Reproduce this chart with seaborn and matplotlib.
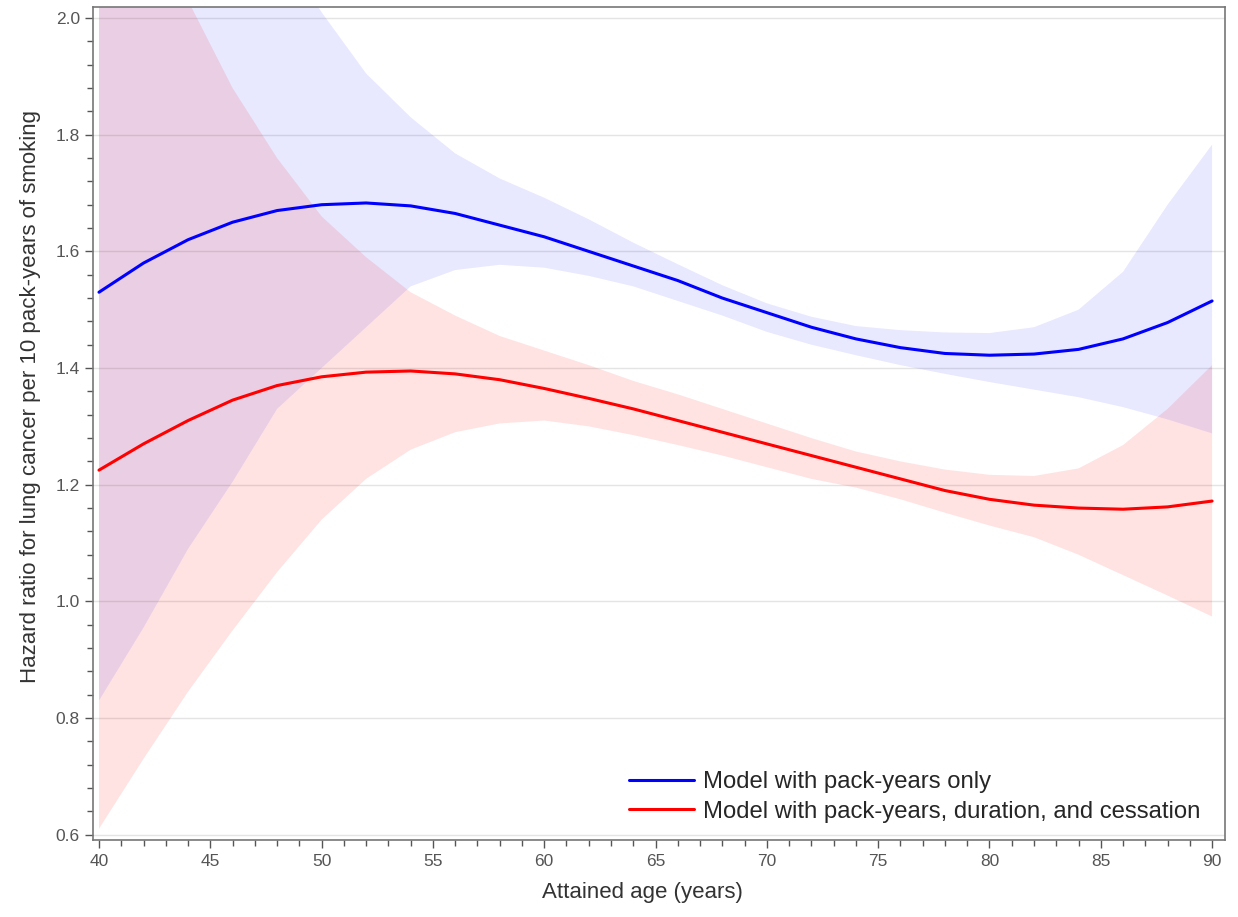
import numpy as np
import pandas as pd
import matplotlib
matplotlib.use("Agg")
import matplotlib.pyplot as plt
import seaborn as sns
from matplotlib.ticker import MultipleLocator, FormatStrFormatter

# values (every 2 years of attained age)
age = [40, 42, 44, 46, 48, 50, 52, 54, 56, 58, 60, 62, 64,
       66, 68, 70, 72, 74, 76, 78, 80, 82, 84, 86, 88, 90]

# model with pack-years only
hr_pack = [1.530, 1.580, 1.620, 1.650, 1.670, 1.680, 1.683, 1.678, 1.665, 1.645, 1.625, 1.600, 1.575,
           1.550, 1.520, 1.495, 1.470, 1.450, 1.435, 1.425, 1.422, 1.424, 1.432, 1.450, 1.478, 1.515]
lo_pack = [0.830, 0.955, 1.090, 1.205, 1.330, 1.400, 1.470, 1.540, 1.568, 1.577, 1.572, 1.558, 1.540,
           1.515, 1.490, 1.462, 1.440, 1.422, 1.405, 1.390, 1.376, 1.363, 1.350, 1.333, 1.312, 1.288]
hi_pack = [2.750, 2.580, 2.420, 2.270, 2.130, 2.010, 1.905, 1.830, 1.768, 1.725, 1.692, 1.655, 1.615,
           1.578, 1.542, 1.511, 1.488, 1.472, 1.465, 1.461, 1.460, 1.470, 1.500, 1.565, 1.680, 1.783]

# model with pack-years, duration and cessation
hr_full = [1.225, 1.270, 1.310, 1.345, 1.370, 1.385, 1.393, 1.395, 1.390, 1.380, 1.365, 1.348, 1.330,
           1.310, 1.290, 1.270, 1.250, 1.230, 1.210, 1.190, 1.175, 1.165, 1.160, 1.158, 1.162, 1.172]
lo_full = [0.610, 0.730, 0.845, 0.950, 1.050, 1.140, 1.210, 1.260, 1.290, 1.305, 1.310, 1.300, 1.285,
           1.268, 1.250, 1.230, 1.210, 1.195, 1.175, 1.152, 1.130, 1.110, 1.080, 1.045, 1.010, 0.974]
hi_full = [2.450, 2.230, 2.030, 1.880, 1.760, 1.660, 1.590, 1.530, 1.490, 1.455, 1.430, 1.405, 1.378,
           1.355, 1.330, 1.305, 1.280, 1.257, 1.240, 1.226, 1.217, 1.215, 1.228, 1.268, 1.330, 1.405]

labels = ["Model with pack-years only",
          "Model with pack-years, duration, and cessation"]
colors = ["#0000ff", "#ff0000"]

df = pd.concat([
    pd.DataFrame({"age": age, "hr": hr_pack, "model": labels[0]}),
    pd.DataFrame({"age": age, "hr": hr_full, "model": labels[1]}),
])

sns.set_theme(style="white")
plt.rcParams["font.family"] = ["Liberation Sans", "DejaVu Sans"]

fig = plt.figure(figsize=(12.38, 9.17), dpi=100)
ax = fig.add_axes([0.0751, 0.084, 0.9144, 0.9084])

ax.fill_between(age, lo_pack, hi_pack, color="#0000ff", alpha=0.09, linewidth=0)
ax.fill_between(age, lo_full, hi_full, color="#ff0000", alpha=0.11, linewidth=0)

sns.lineplot(data=df, x="age", y="hr", hue="model", palette=colors,
             linewidth=2.2, ax=ax, zorder=3)

ax.set_xlim(39.73, 90.58)
ax.set_ylim(0.591, 2.019)
ax.xaxis.set_major_locator(MultipleLocator(5))
ax.xaxis.set_minor_locator(MultipleLocator(1))
ax.yaxis.set_major_locator(MultipleLocator(0.2))
ax.yaxis.set_minor_locator(MultipleLocator(0.04))
ax.yaxis.set_major_formatter(FormatStrFormatter("%.1f"))

ax.grid(axis="y", which="major", color="#e4e4e4", linewidth=1.0)
ax.set_axisbelow(True)

ax.tick_params(axis="both", which="major", direction="out", length=6, width=1,
               color="#555555", labelsize=12.5, labelcolor="#555555", left=True, bottom=True)
ax.tick_params(axis="both", which="minor", direction="out", length=4, width=1,
               color="#555555", left=True, bottom=True)
ax.tick_params(axis="x", which="major", pad=4)

for side in ["top", "right", "left", "bottom"]:
    ax.spines[side].set_color("#777777")
    ax.spines[side].set_linewidth(1.2)

ax.set_xlabel("Attained age (years)", fontsize=16, color="#333333")
ax.set_ylabel("Hazard ratio for lung cancer per 10 pack-years of smoking",
              fontsize=16, color="#333333")
ax.xaxis.set_label_coords(0.485, -0.051)
ax.yaxis.set_label_coords(-0.046, 0.532)

ax.legend(loc="lower right", bbox_to_anchor=(0.997, -0.005), frameon=False,
          fontsize=17.2, handlelength=2.75, handletextpad=0.35, labelspacing=0.3,
          title=None)

fig.savefig("out.png", dpi=100)
